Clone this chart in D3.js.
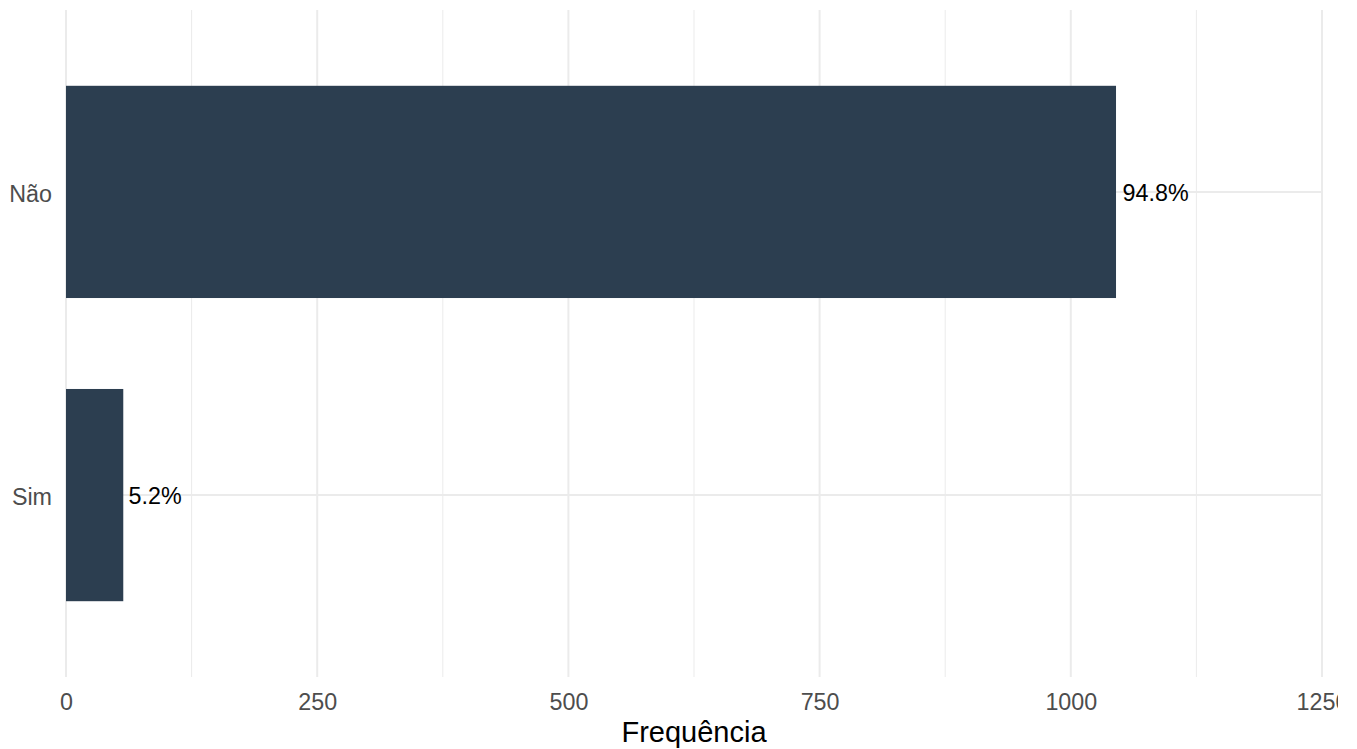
<!DOCTYPE html>
<html>
<head>
<meta charset="utf-8">
<script src="https://cdn.jsdelivr.net/npm/d3@7"></script>
<style>
  html, body { margin: 0; padding: 0; background: #ffffff; }
  svg { display: block; }
  text { font-family: "Liberation Sans", Arial, Helvetica, sans-serif; }
</style>
</head>
<body>
<svg id="chart" width="1357" height="749"></svg>
<script>
const categories = ["Não", "Sim"];
const counts = [1045, 57];
const percentLabels = ["94.8%", "5.2%"];
const xTicks = [0, 250, 500, 750, 1000, 1250];
const xMinorTicks = [125, 375, 625, 875, 1125];
const xTitle = "Frequência";

const W = 1357, H = 749;
const panel = { left: 66, right: 1322, top: 10, bottom: 677 };
const barColor = "#2C3E50";
const gridColor = "#EBEBEB";
const tickSize = 23.3;
const titleSize = 29;

const svg = d3.select("#chart");
svg.append("rect").attr("width", W).attr("height", H).attr("fill", "#fff");

const defs = svg.append("defs");
defs.append("clipPath").attr("id", "clipAll")
  .append("rect").attr("x", 0).attr("y", 0).attr("width", 1338).attr("height", H);

const root = svg.append("g").attr("clip-path", "url(#clipAll)");

const x = d3.scaleLinear().domain([0, 1250]).range([panel.left, panel.right]);
const y = d3.scalePoint().domain(categories).range([panel.top, panel.bottom]).padding(0.6);
const barH = y.step() * 0.7;

// minor grid
root.append("g").selectAll("line").data(xMinorTicks).join("line")
  .attr("x1", d => x(d)).attr("x2", d => x(d))
  .attr("y1", panel.top).attr("y2", panel.bottom)
  .attr("stroke", gridColor).attr("stroke-width", 1);

// major grid vertical
root.append("g").selectAll("line").data(xTicks).join("line")
  .attr("x1", d => x(d)).attr("x2", d => x(d))
  .attr("y1", panel.top).attr("y2", panel.bottom)
  .attr("stroke", gridColor).attr("stroke-width", 2);

// major grid horizontal
root.append("g").selectAll("line").data(categories).join("line")
  .attr("x1", panel.left).attr("x2", panel.right)
  .attr("y1", d => y(d)).attr("y2", d => y(d))
  .attr("stroke", gridColor).attr("stroke-width", 2);

// bars
root.append("g").selectAll("rect").data(categories).join("rect")
  .attr("x", x(0))
  .attr("y", d => y(d) - barH / 2)
  .attr("width", (d, i) => x(counts[i]) - x(0))
  .attr("height", barH)
  .attr("fill", barColor);

// bar labels
root.append("g").selectAll("text").data(categories).join("text")
  .attr("x", (d, i) => x(counts[i]))
  .attr("y", d => y(d))
  .attr("dy", "0.38em")
  .attr("font-size", tickSize)
  .attr("fill", "#000")
  .text((d, i) => percentLabels[i])
  .each(function () {
    const w = this.getComputedTextLength();
    d3.select(this).attr("x", +d3.select(this).attr("x") + 0.1 * w);
  });

// x axis tick labels
const xAxis = d3.axisBottom(x).tickValues(xTicks).tickSize(0).tickPadding(0).tickFormat(d3.format("d"));
const gx = root.append("g").attr("transform", `translate(0, ${panel.bottom})`).call(xAxis);
gx.select(".domain").remove();
gx.selectAll("text")
  .attr("y", 33).attr("dy", null)
  .attr("font-size", tickSize)
  .attr("fill", "#4D4D4D")
  .style("font-family", '"Liberation Sans", Arial, sans-serif');

// y axis tick labels
const yAxis = d3.axisLeft(y).tickSize(0).tickPadding(0);
const gy = root.append("g").attr("transform", `translate(${panel.left - 14}, 0)`).call(yAxis);
gy.select(".domain").remove();
gy.selectAll("text")
  .attr("x", 0).attr("dy", "0.4em")
  .attr("font-size", tickSize)
  .attr("fill", "#4D4D4D")
  .style("font-family", '"Liberation Sans", Arial, sans-serif');

// x title
root.append("text")
  .attr("x", (panel.left + panel.right) / 2)
  .attr("y", 742)
  .attr("text-anchor", "middle")
  .attr("font-size", titleSize)
  .attr("fill", "#000")
  .text(xTitle);
</script>
</body>
</html>
